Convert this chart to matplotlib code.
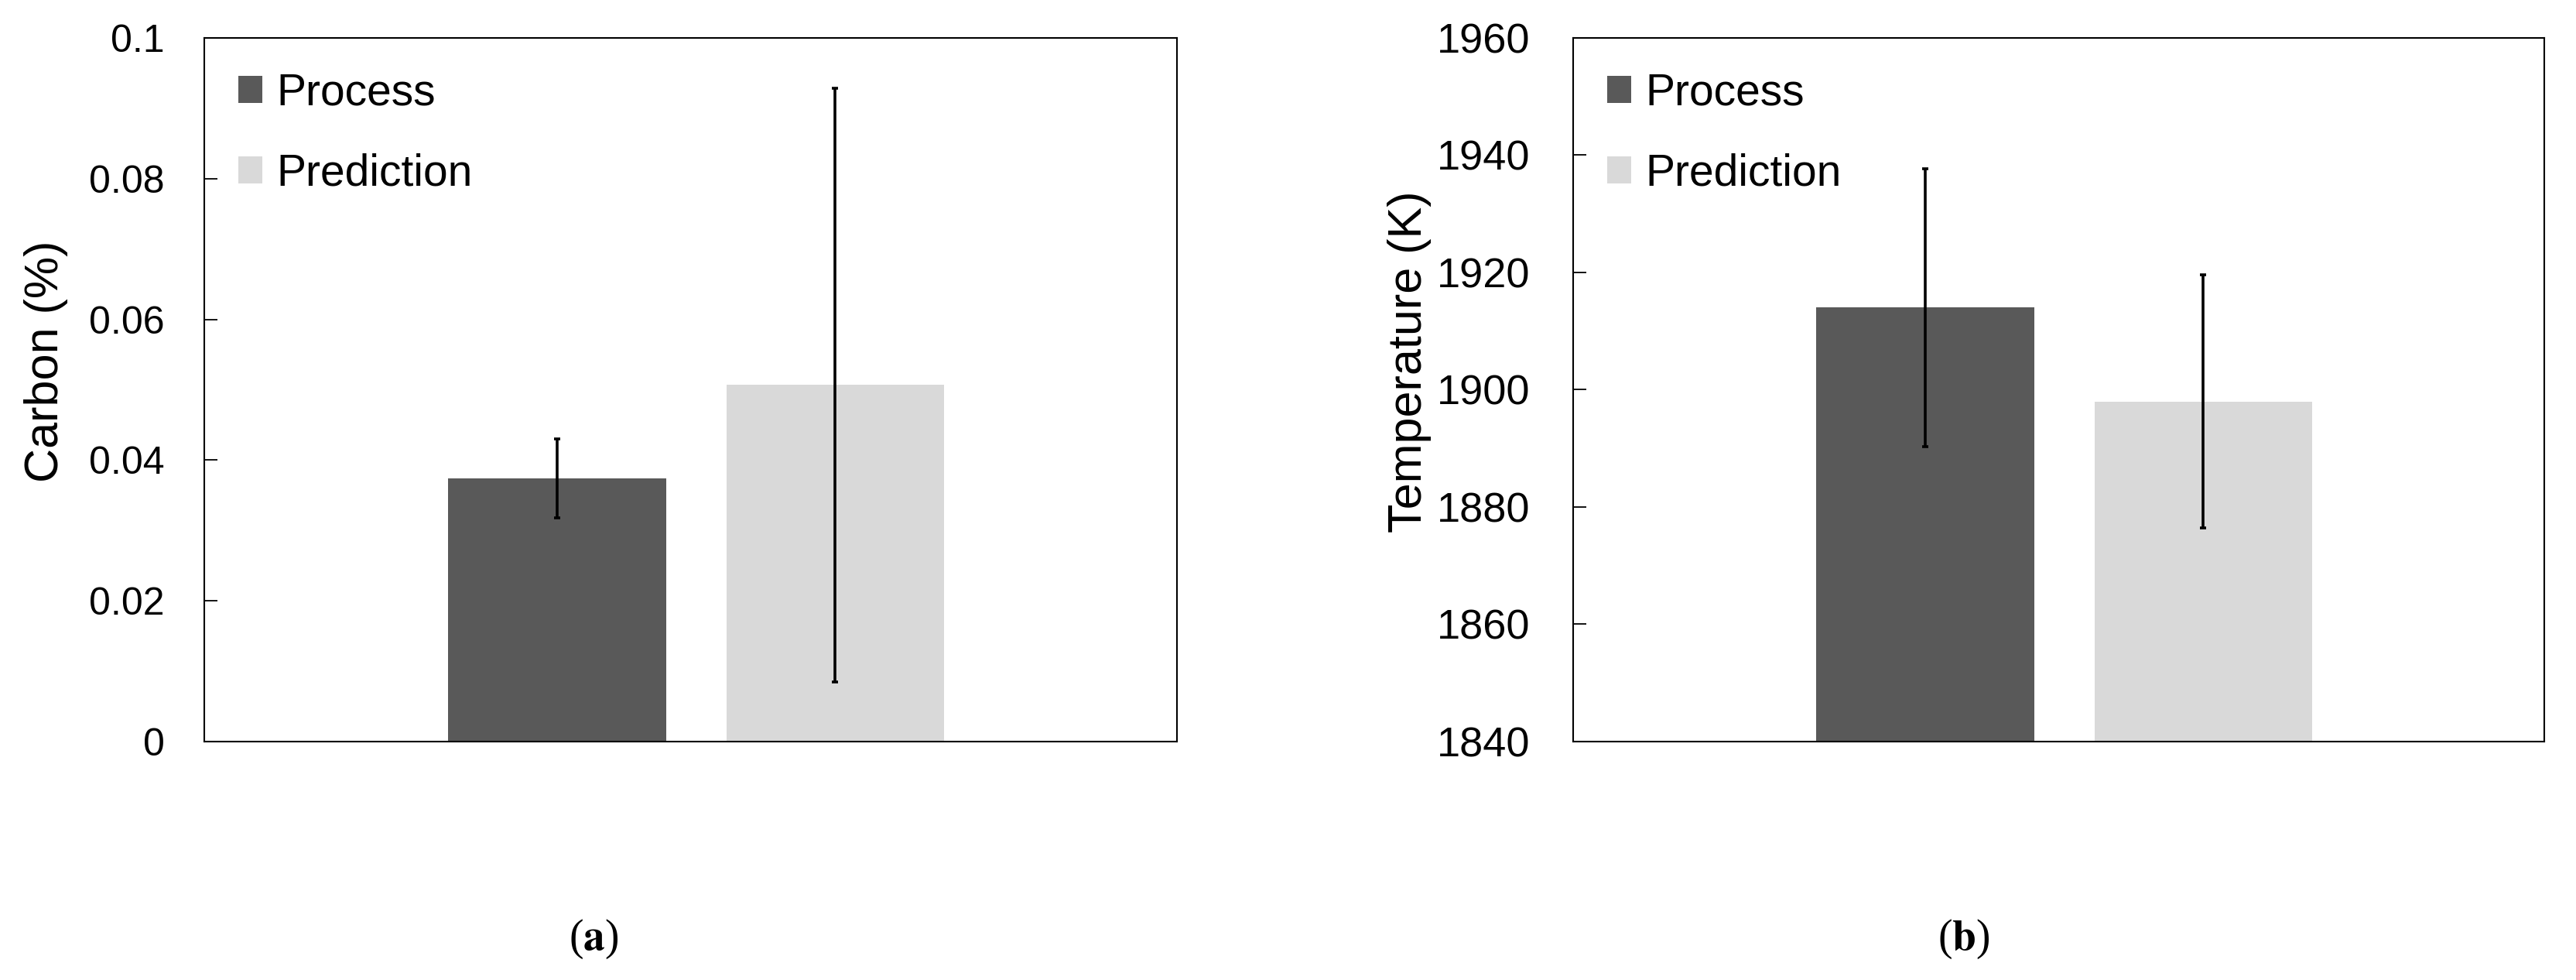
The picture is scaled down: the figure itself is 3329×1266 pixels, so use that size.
import matplotlib.pyplot as plt
import numpy as np

plt.rcParams['font.family'] = ['Liberation Sans', 'DejaVu Sans']
plt.rcParams['mathtext.fontset'] = 'stix'

# data
series = ['Process', 'Prediction']
colors = ['#595959', '#d9d9d9']

carbon = [0.0374, 0.0507]
carbon_err = [0.0056, 0.0422]

temp = [1914.0, 1898.0]
temp_err = [23.7, 21.6]

fig = plt.figure(figsize=(33.3, 12.66), dpi=100)
ax1 = fig.add_axes([0.0793, 0.2433, 0.3775, 0.7180])
ax2 = fig.add_axes([0.6105, 0.2433, 0.3770, 0.7180])

xpos = [0.3625, 0.6486]
width = 0.224


def panel(ax, vals, errs, ylim, yticks, ticklabels, ylabel, labelx, ticksize, tickpad):
    bottom = ylim[0]
    for i in range(len(series)):
        ax.bar(xpos[i], vals[i] - bottom, width, bottom=bottom, color=colors[i],
               label=series[i], zorder=2)
        ax.errorbar(xpos[i], vals[i], yerr=errs[i], fmt='none', ecolor='black',
                    elinewidth=2.6, capsize=3, capthick=2.6, zorder=3)
    ax.set_xlim(0, 1)
    ax.set_ylim(*ylim)
    ax.set_yticks(yticks)
    ax.set_yticklabels(ticklabels)
    ax.set_xticks([])
    ax.tick_params(axis='y', direction='in', length=12, width=1.3,
                   labelsize=ticksize, pad=tickpad)
    for s in ax.spines.values():
        s.set_linewidth(1.5)
    # ylabel anchored by its right edge
    ax.set_ylabel(ylabel, fontsize=44)
    ax.yaxis.set_label_coords(labelx, 0.54)
    ax.legend(loc='upper left', frameon=False, fontsize=41, handlelength=0.55,
              handleheight=0.58, handletextpad=0.32, labelspacing=0.88,
              bbox_to_anchor=(0.035, 0.951), borderaxespad=0, borderpad=0)


panel(ax1, carbon, carbon_err, (0, 0.1), [0, 0.02, 0.04, 0.06, 0.08, 0.1],
      ['0', '0.02', '0.04', '0.06', '0.08', '0.1'], 'Carbon (%)', -0.140, 36, 37)
panel(ax2, temp, temp_err, (1840, 1960), np.arange(1840, 1961, 20),
      [str(v) for v in range(1840, 1961, 20)], 'Temperature (K)', -0.146, 39, 40)

fig.text(767 / 3330, 1 - 1213 / 1266, '(' + r'$\mathbf{a}$' + ')', fontsize=40,
         family='Liberation Serif', ha='center', va='center')
fig.text(2538 / 3330, 1 - 1213 / 1266, '(' + r'$\mathbf{b}$' + ')', fontsize=40,
         family='Liberation Serif', ha='center', va='center')

fig.savefig('out.png', dpi=100)
